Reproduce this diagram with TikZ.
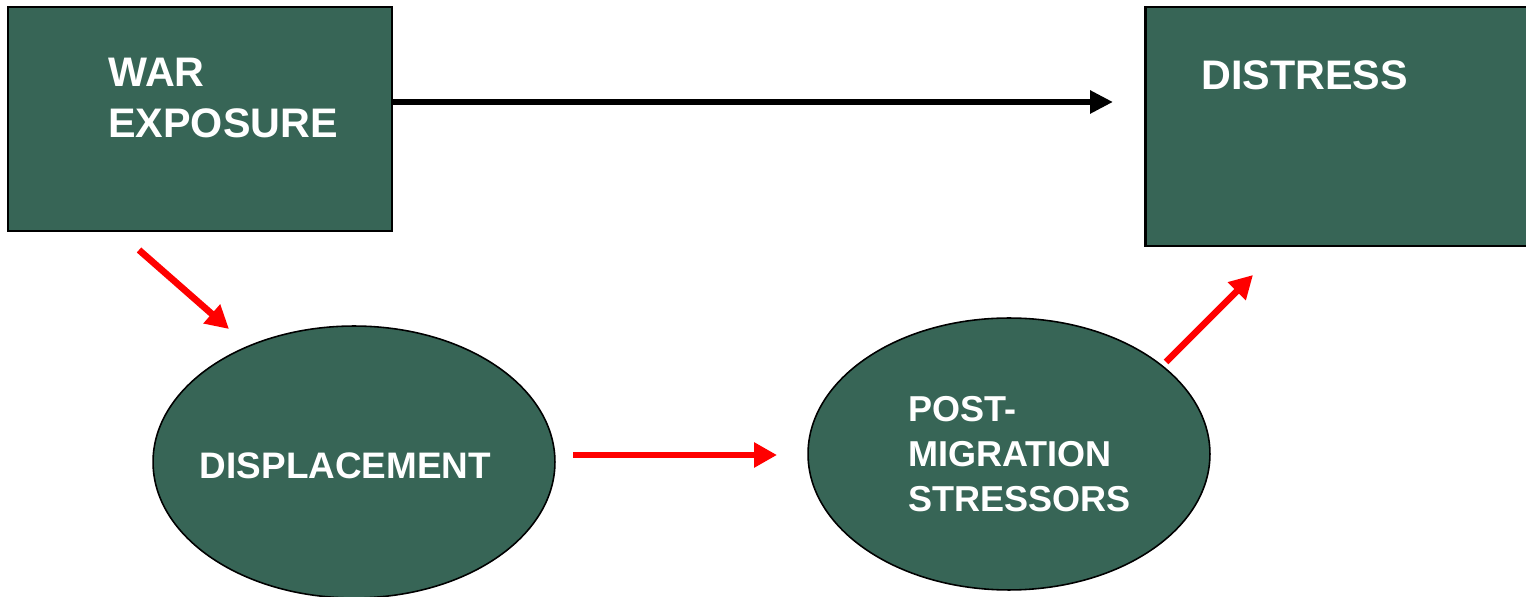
\documentclass[tikz,border=0pt]{standalone}
\usepackage{fontspec}
\setmainfont{Liberation Sans}
\usepackage{tikz}
\usetikzlibrary{shapes.geometric,arrows.meta}
\definecolor{boxgreen}{RGB}{55,101,86}

\begin{document}
\begin{tikzpicture}[x=0.02cm, y=0.02cm]
              \tikzstyle{every node}+=[inner sep=0pt]
              \tikzstyle{box}=[draw=black, line width=1.3pt, fill=boxgreen]
              \tikzstyle{blob}=[ellipse, draw=black, line width=0.9pt, fill=boxgreen, minimum width=8.04cm, minimum height=5.44cm]
              \tikzstyle{boxtext}=[text=white, font=\bfseries\fontsize{23.5}{29}\selectfont, align=left]
              \tikzstyle{blobtext}=[text=white, font=\bfseries\fontsize{20.5}{25.6}\selectfont, align=left]
              \tikzstyle{redarrow}=[draw=red, line width=3.8pt, -{Triangle[length=0.46cm, width=0.48cm]}]
              \tikzstyle{blackarrow}=[draw=black, line width=3.8pt, -{Triangle[length=0.46cm, width=0.44cm]}]
              \useasboundingbox (0,0) rectangle (1526,-597);
              % boxes
              \node [box, minimum width=7.68cm, minimum height=4.48cm] (war) at (200,-119) {};
              \node [boxtext, anchor=north west] (warText) at (108,-58) {WAR\\EXPOSURE};
              \node [box, minimum width=8.1cm, minimum height=4.78cm] (distress) at (1348,-126.5) {};
              \node [boxtext, anchor=north west] (distressText) at (1201,-60) {DISTRESS};
              % ellipses
              \node [blob, label={[blobtext, font=\bfseries\fontsize{21}{25}\selectfont, xshift=-0.17cm, yshift=-0.08cm]center:DISPLACEMENT}] (displacement) at (354,-462) {};
              \node [blob, label={[blobtext, xshift=0.21cm]center:POST-\\MIGRATION\\STRESSORS}] (postmig) at (1009,-454) {};
              % arrow ends
              \coordinate (warOut) at (393,-102);
              \coordinate (distressIn) at (1113,-102);
              \coordinate (warLow) at (139,-250);
              \coordinate (displacementIn) at (229,-329);
              \coordinate (displacementOut) at (573,-455);
              \coordinate (postmigIn) at (777,-455);
              \coordinate (postmigOut) at (1166,-362);
              \coordinate (distressLow) at (1253,-275);
              \draw [blackarrow] (warOut) -- (distressIn);
              \draw [redarrow] (warLow) -- (displacementIn);
              \draw [redarrow] (displacementOut) -- (postmigIn);
              \draw [redarrow] (postmigOut) -- (distressLow);
            \end{tikzpicture}
\end{document}
